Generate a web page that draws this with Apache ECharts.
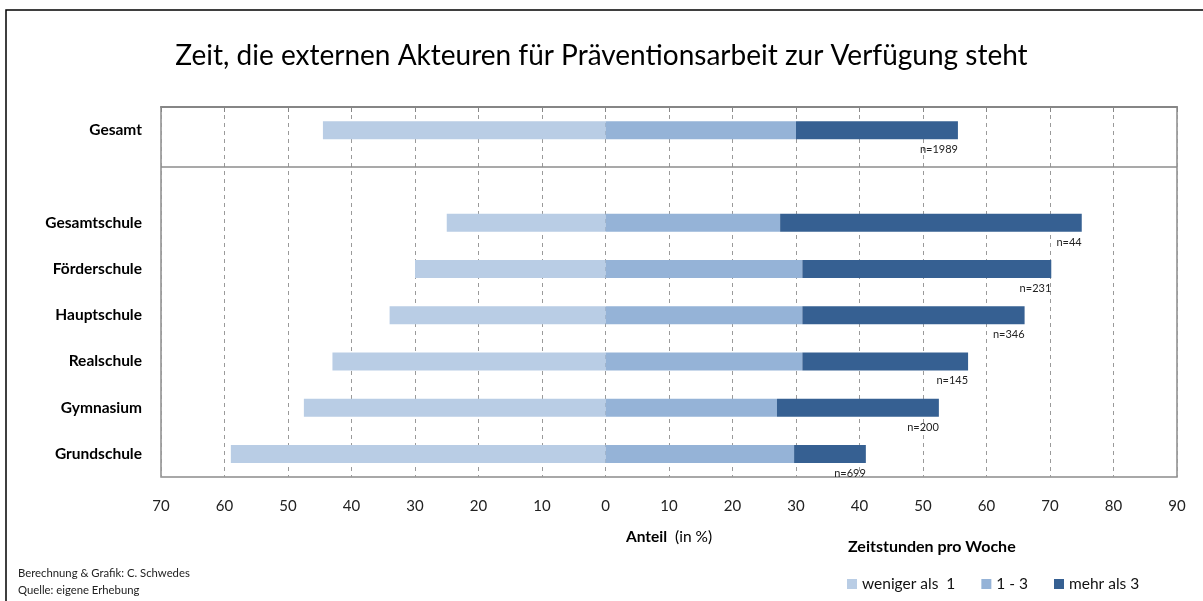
<!DOCTYPE html>
<html>
<head>
<meta charset="utf-8">
<script src="https://cdn.jsdelivr.net/npm/echarts@6/dist/echarts.min.js"></script>
<style>
  html, body { margin: 0; padding: 0; background: #fff; }
  #chart { width: 1203px; height: 601px; }
</style>
</head>
<body>
<div id="chart"></div>
<script>
// Kategorien (leere Zeile trennt Gesamt von den Schulformen)
const categories = ['Gesamt', '', 'Gesamtschule', 'Förderschule', 'Hauptschule', 'Realschule', 'Gymnasium', 'Grundschule']
// Anteile in %
const wenigerAls1 = [44.5, null, 25, 30, 34, 43, 47.5, 59]
const einsBisDrei = [30, null, 27.5, 31, 31, 31, 27, 29.7]
const mehrAls3 = [25.5, null, 47.5, 39.2, 35, 26.1, 25.5, 11.3]
// Stichprobengroessen
const nCounts = ['1989', '', '44', '231', '346', '145', '200', '699']
const seriesNames = ['weniger als  1', '1 - 3', 'mehr als 3']
const colors = ['#B9CDE5', '#95B3D7', '#366092']
const xMin = -70
const xMax = 90
const xStep = 10

const FONT = 'Lato, "Open Sans", sans-serif'
const myChart = echarts.init(document.getElementById('chart'))

const option = {
  animation: false,
  textStyle: { fontFamily: FONT },
  title: [
    {
      text: 'Zeit, die externen Akteuren für Präventionsarbeit zur Verfügung steht',
      left: 'center',
      top: 42,
      padding: 0,
      textStyle: { fontSize: 28, fontWeight: 'normal', color: '#000', fontFamily: FONT }
    },
    {
      text: 'Zeitstunden pro Woche',
      left: 848,
      top: 539,
      padding: 0,
      textStyle: { fontSize: 16, fontWeight: 'bold', color: '#000', fontFamily: FONT }
    },
    {
      text: 'Berechnung & Grafik: C. Schwedes\nQuelle: eigene Erhebung',
      left: 18,
      top: 565,
      padding: 0,
      textStyle: { fontSize: 11.3, lineHeight: 17, fontWeight: 'normal', color: '#222', fontFamily: FONT }
    }
  ],
  legend: {
    data: seriesNames,
    left: 842,
    top: 571,
    icon: 'rect',
    itemWidth: 10,
    itemHeight: 10,
    itemGap: 26,
    textStyle: { fontSize: 15.5, color: '#111', fontFamily: FONT }
  },
  graphic: [
    {
      type: 'rect',
      silent: true,
      z: -1,
      shape: { x: 6, y: 10, width: 1400, height: 800 },
      style: { fill: 'none', stroke: '#000', lineWidth: 1.5 }
    }
  ],
  grid: {
    left: 161,
    right: 26,
    top: 107,
    bottom: 124,
    show: true,
    borderColor: '#8c8c8c',
    borderWidth: 1.5
  },
  xAxis: {
    type: 'value',
    min: xMin,
    max: xMax,
    interval: xStep,
    name: '{b|Anteil}  (in %)',
    nameLocation: 'middle',
    nameGap: 52,
    nameTextStyle: {
      fontSize: 15.5,
      color: '#000',
      fontFamily: FONT,
      rich: { b: { fontSize: 15.5, fontWeight: 'bold', color: '#000', fontFamily: FONT } }
    },
    axisLine: { show: true, lineStyle: { color: '#868686', width: 2 } },
    axisTick: { show: true, length: 5, lineStyle: { color: '#868686', width: 1 } },
    axisLabel: {
      fontSize: 15,
      color: '#222',
      margin: 22,
      formatter: v => Math.abs(v)
    },
    splitLine: { show: true, lineStyle: { color: '#9a9a9a', type: [4, 4], width: 1 } }
  },
  yAxis: [
    {
      type: 'category',
      inverse: true,
      data: categories,
      axisLine: { show: false },
      axisTick: { show: false },
      splitLine: { show: false },
      axisLabel: { fontSize: 15.5, fontWeight: 'bold', color: '#000', margin: 19 }
    },
    {
      // unsichtbare Hilfsachse fuer die Trennlinie unter "Gesamt"
      type: 'value',
      inverse: true,
      min: 0,
      max: categories.length,
      show: false
    }
  ],
  series: [
    {
      name: seriesNames[0],
      type: 'bar',
      stack: 'total',
      barWidth: 18,
      itemStyle: { color: colors[0] },
      data: wenigerAls1.map(v => (v == null ? null : -v))
    },
    {
      name: seriesNames[1],
      type: 'bar',
      stack: 'total',
      barWidth: 18,
      itemStyle: { color: colors[1] },
      data: einsBisDrei
    },
    {
      name: seriesNames[2],
      type: 'bar',
      stack: 'total',
      barWidth: 18,
      itemStyle: { color: colors[2] },
      label: {
        show: true,
        position: ['100%', '100%'],
        align: 'right',
        verticalAlign: 'top',
        offset: [0, 5],
        fontSize: 11,
        color: '#222',
        fontFamily: FONT,
        formatter: p => (nCounts[p.dataIndex] ? 'n=' + nCounts[p.dataIndex] : '')
      },
      data: mehrAls3
    },
    {
      name: 'trenner',
      type: 'line',
      yAxisIndex: 1,
      data: [],
      silent: true,
      markLine: {
        silent: true,
        symbol: 'none',
        label: { show: false },
        lineStyle: { color: '#8c8c8c', type: 'solid', width: 1.5 },
        data: [{ yAxis: 1.3 }]
      }
    }
  ]
}
myChart.setOption(option)
</script>
</body>
</html>
